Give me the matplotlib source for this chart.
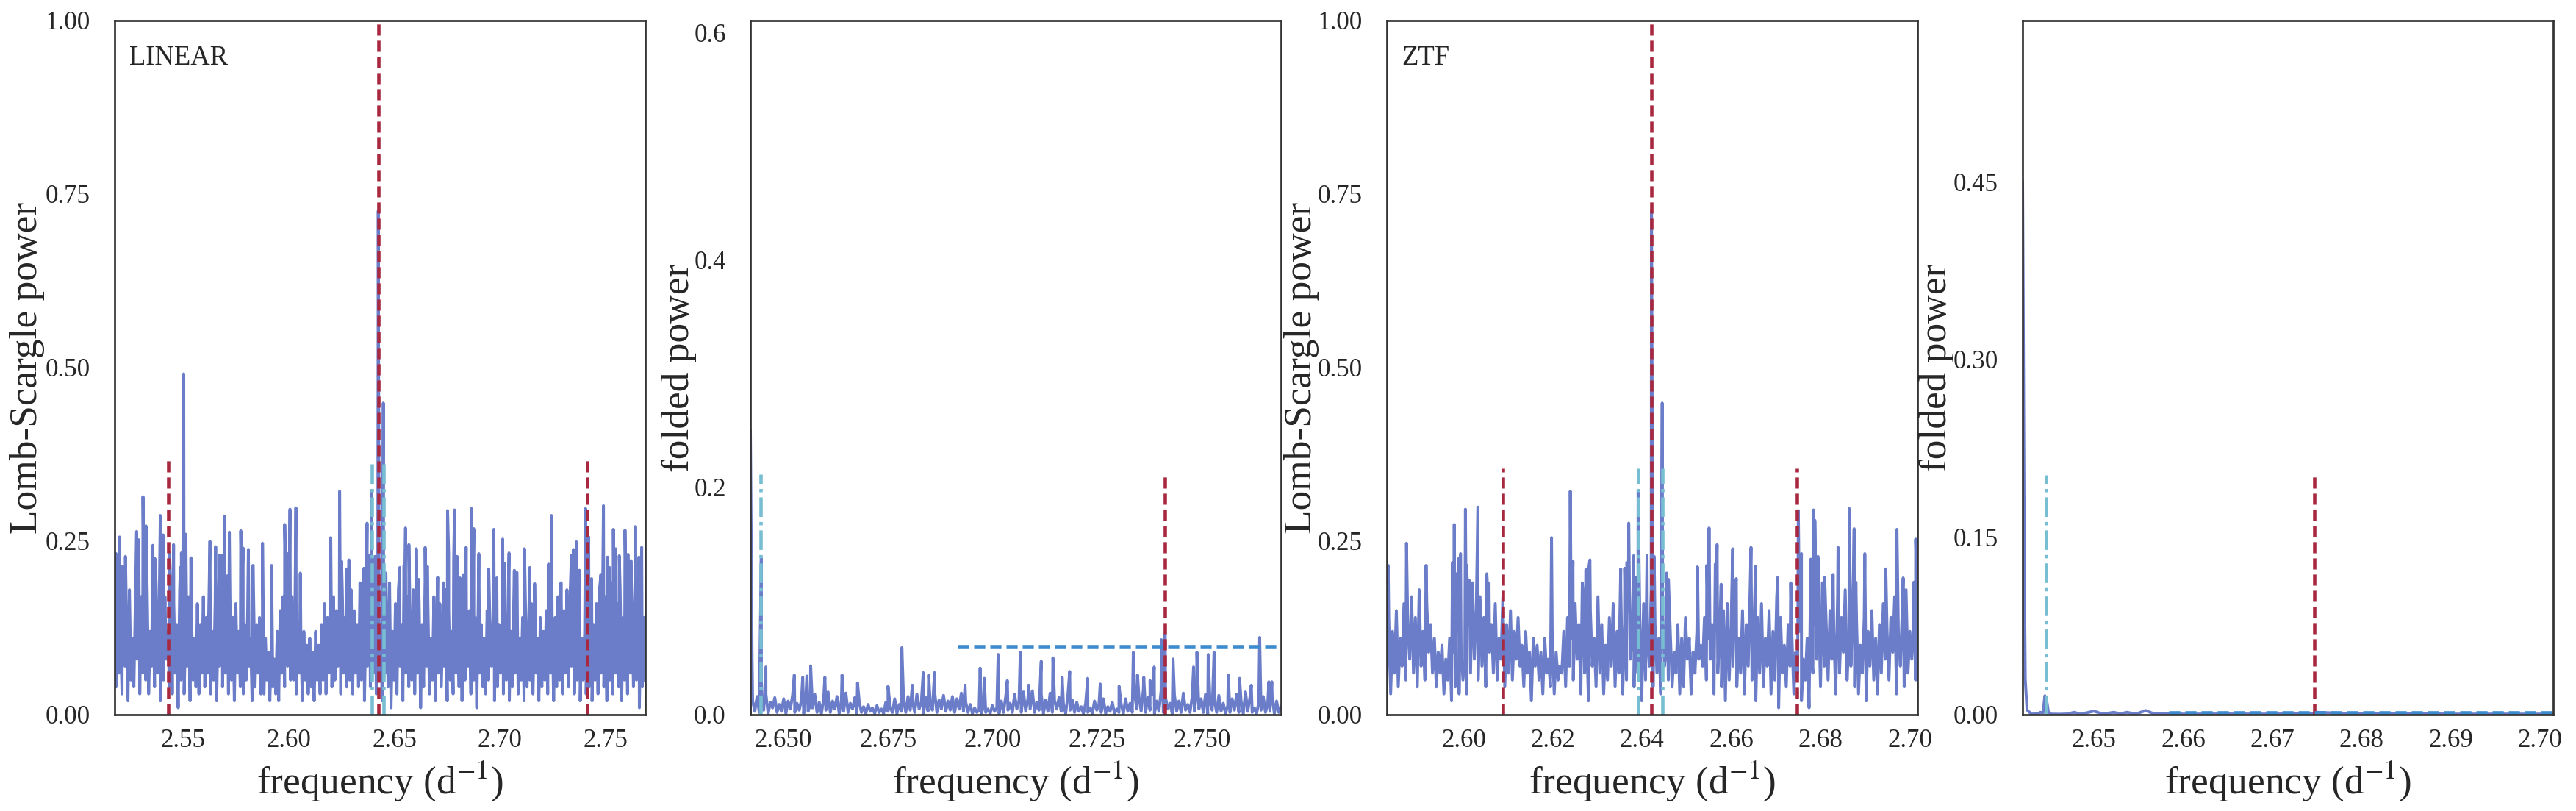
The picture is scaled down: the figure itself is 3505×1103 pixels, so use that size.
import numpy as np
import matplotlib
matplotlib.use("Agg")
import matplotlib.pyplot as plt

plt.rcParams['font.family'] = ['Liberation Serif', 'DejaVu Serif']
plt.rcParams['mathtext.fontset'] = 'stix'

BLUE = "#6b7dc9"
RED = "#a8283f"
CYAN = "#78bed3"
HLINE = "#3d8bcf"
INK = "#262626"

# LINEAR periodogram: tall peaks
linear_peak_freq = [2.5183, 2.5199, 2.5213, 2.5227, 2.5280, 2.5290, 2.5310, 2.5324, 2.5357, 2.5366,
                    2.5392, 2.5406, 2.5436, 2.5455, 2.5487, 2.5492, 2.5503, 2.5513, 2.5537, 2.5627,
                    2.5654, 2.5672, 2.5685, 2.5696, 2.5709, 2.5719, 2.5773, 2.5784, 2.5809, 2.5831,
                    2.5876, 2.5919, 2.5981, 2.5996, 2.6006, 2.6034, 2.6055, 2.6199, 2.6241, 2.6250,
                    2.6275, 2.6285, 2.6356, 2.6371, 2.6383, 2.6392, 2.6409, 2.6424, 2.6448, 2.6460,
                    2.6526, 2.6546, 2.6553, 2.6569, 2.6604, 2.6615, 2.6646, 2.6656, 2.6705, 2.6734,
                    2.6752, 2.6757, 2.6781, 2.6785, 2.6797, 2.6811, 2.6830, 2.6840, 2.6865, 2.6876,
                    2.6900, 2.6947, 2.6971, 2.6985, 2.7013, 2.7022, 2.7043, 2.7068, 2.7080, 2.7116,
                    2.7141, 2.7164, 2.7230, 2.7244, 2.7338, 2.7348, 2.7362, 2.7376, 2.7405, 2.7420,
                    2.7434, 2.7478, 2.7490, 2.7509, 2.7519, 2.7537, 2.7548, 2.7565, 2.7592, 2.7606,
                    2.7620, 2.7641, 2.7658, 2.7671]
linear_peak_power = [.232, .256, .214, .228, .264, .252, .314, .272, .244, .225,
                     .287, .259, .233, .245, .212, .233, .491, .260, .226, .250,
                     .242, .230, .230, .286, .200, .263, .265, .240, .238, .215,
                     .247, .215, .274, .232, .296, .298, .204, .255, .322, .221,
                     .210, .223, .211, .276, .230, .323, .228, .726, .449, .204,
                     .212, .215, .269, .245, .239, .195, .241, .214, .198, .190,
                     .294, .232, .224, .295, .228, .197, .202, .241, .297, .268,
                     .232, .210, .267, .197, .253, .218, .233, .208, .205, .239,
                     .212, .189, .217, .287, .230, .238, .249, .208, .297, .256,
                     .196, .202, .301, .227, .212, .267, .239, .229, .266, .231,
                     .222, .271, .227, .241]
# the dense noise between those peaks, evenly sampled across the panel
linear_noise = [.15, .04, .17, .06, .12, .03, .16, .07, .14, .02, .18, .05, .11, .04, .16, .08, .13, .03, .17, .06,
                .14, .05, .18, .03, .12, .07, .16, .04, .19, .06, .13, .02, .15, .05, .17, .08, .12, .04, .18, .03,
                .16, .06, .13, .01, .18, .05, .15, .03, .12, .07, .17, .02, .14, .05, .11, .04, .16, .03, .13, .06,
                .17, .04, .14, .06, .19, .03, .12, .05, .16, .02, .13, .07, .18, .04, .15, .06, .11, .03, .17, .05,
                .14, .02, .16, .06, .12, .04, .18, .03, .13, .05, .15, .07, .11, .02, .17, .04, .13, .06, .14, .03,
                .10, .03, .11, .05, .09, .02, .10, .04, .08, .03, .12, .02, .15, .06, .17, .04, .18, .07, .14, .05,
                .17, .05, .15, .03, .13, .06, .11, .02, .12, .05, .10, .03, .11, .04, .09, .02, .12, .05, .10, .03,
                .13, .05, .16, .03, .14, .06, .12, .04, .17, .05, .15, .07, .13, .03, .18, .06, .14, .04, .16, .05,
                .18, .03, .15, .06, .13, .04, .19, .05, .16, .02, .14, .07, .17, .04, .12, .06, .18, .03, .15, .05,
                .13, .02, .17, .06, .14, .04, .19, .01, .12, .05, .16, .03, .18, .07, .13, .02, .15, .06, .17, .04,
                .12, .05, .18, .03, .14, .06, .16, .01, .13, .04, .19, .07, .15, .03, .11, .05, .17, .02, .14, .06,
                .16, .04, .13, .07, .18, .02, .15, .05, .12, .03, .17, .06, .14, .04, .16, .02, .19, .05, .13, .07,
                .15, .03, .12, .05, .14, .01, .16, .06, .13, .04, .11, .03, .15, .05, .12, .07, .14, .02, .16, .04,
                .13, .06, .11, .03, .15, .05, .14, .02, .12, .04, .16, .06, .13, .03, .11, .05, .14, .02, .15, .04,
                .12, .05, .16, .03, .13, .06, .11, .02, .14, .04, .12, .05, .15, .03, .11, .06, .13, .02, .14, .04,
                .17, .05, .19, .03, .15, .06, .18, .04, .16, .07, .14, .03, .19, .05, .13, .02, .11, .05, .12, .03,
                .10, .04, .11, .02, .13, .05, .16, .03, .18, .06, .14, .04, .17, .02, .15, .05, .19, .03, .13, .06,
                .16, .04, .18, .02, .14, .05, .17, .03, .12, .06, .15, .04, .18, .05, .13, .01, .16, .04, .14, .05]

# ZTF periodogram
ztf_peak_freq = [2.5831, 2.5872, 2.5916, 2.5975, 2.5979, 2.5984, 2.5989, 2.5993, 2.6004, 2.6007,
                 2.6013, 2.6032, 2.6052, 2.6057, 2.6197, 2.6239, 2.6245, 2.6266, 2.6274, 2.6280,
                 2.6283, 2.6352, 2.6361, 2.6366, 2.6370, 2.6381, 2.6386, 2.6391, 2.6411, 2.6421,
                 2.6427, 2.6445, 2.6455, 2.6459, 2.6524, 2.6545, 2.6550, 2.6564, 2.6568, 2.6577,
                 2.6603, 2.6611, 2.6644, 2.6654, 2.6704, 2.6733, 2.6750, 2.6757, 2.6778, 2.6784,
                 2.6787, 2.6794, 2.6809, 2.6828, 2.6839, 2.6864, 2.6875, 2.6879, 2.6899, 2.6946,
                 2.6971, 2.6985, 2.7009, 2.7013]
ztf_peak_power = [.215, .247, .215, .219, .274, .203, .225, .232, .296, .215,
                  .193, .299, .203, .189, .255, .322, .221, .190, .209, .210,
                  .223, .210, .211, .219, .276, .229, .198, .323, .229, .726,
                  .228, .449, .204, .195, .213, .215, .269, .217, .245, .188,
                  .239, .196, .241, .214, .198, .190, .294, .232, .224, .295,
                  .280, .228, .198, .202, .241, .297, .268, .191, .232, .210,
                  .267, .197, .191, .253]
ztf_noise = [.05, .14, .03, .12, .06, .15, .04, .11, .07, .16, .05, .13, .08, .17, .06, .14, .04, .18, .07, .12,
             .05, .16, .09, .13, .06, .11, .04, .09, .06, .10, .03, .08, .05, .11, .02, .09, .04, .12, .03, .10,
             .05, .08, .03, .13, .06, .19, .08, .15, .05, .17, .07, .14, .04, .18, .09, .13, .06, .16, .05, .11,
             .08, .17, .04, .13, .06, .15, .05, .12, .08, .14, .07, .10, .04, .12, .06, .09, .02, .11, .07, .10,
             .05, .09, .03, .11, .06, .08, .04, .10, .03, .09, .05, .07, .06, .12, .04, .14, .07, .11, .05, .16,
             .08, .13, .03, .18, .06, .12, .02, .15, .07, .11, .04, .17, .06, .13, .03, .10, .05, .14, .07, .16,
             .04, .12, .06, .18, .03, .13, .05, .15, .08, .11, .04, .17, .06, .14, .02, .16, .05, .12, .07, .18,
             .04, .13, .06, .11, .03, .15, .07, .10, .05, .12, .04, .09, .06, .13, .03, .11, .04, .14, .08, .11,
             .03, .09, .06, .12, .08, .10, .07, .14, .05, .11, .08, .13, .03, .17, .06, .12, .04, .15, .02, .16,
             .05, .13, .07, .18, .04, .11, .06, .15, .03, .13, .07, .18, .05, .12, .02, .14, .06, .16, .04, .11,
             .07, .15, .03, .12, .05, .17, .01, .14, .06, .10, .04, .13, .07, .11, .03, .09, .06, .12, .02, .08,
             .05, .11, .01, .09, .06, .13, .08, .16, .04, .19, .07, .13, .05, .15, .08, .12, .03, .17, .06, .14,
             .09, .18, .05, .11, .07, .16, .04, .13, .03, .10, .06, .14, .02, .12, .07, .15, .05, .11, .03, .13,
             .06, .16, .08, .12, .05, .14, .09, .17, .03, .11, .07, .15, .04, .18, .06, .12, .08, .13, .05, .16]

# folded power, LINEAR
linear_fold_peak_freq = [2.6421, 2.6425, 2.6447, 2.6458, 2.6526, 2.6546, 2.6556, 2.6565, 2.6599, 2.6640,
                         2.6677, 2.6750, 2.6783, 2.6808, 2.6834, 2.6847, 2.6861, 2.6934, 2.6970, 2.6980,
                         2.7013, 2.7035, 2.7066, 2.7086, 2.7116, 2.7144, 2.7166, 2.7184, 2.7227, 2.7257,
                         2.7302, 2.7336, 2.7346, 2.7361, 2.7376, 2.7386, 2.7403, 2.7412, 2.7431, 2.7480,
                         2.7488, 2.7515, 2.7529, 2.7563, 2.7590, 2.7618, 2.7638, 2.7660, 2.7667]
linear_fold_peak_power = [.250, .051, .1375, .042, .035, .033, .034, .043, .033, .035,
                          .028, .025, .059, .026, .037, .035, .037, .026, .041, .032,
                          .053, .030, .055, .026, .047, .050, .033, .038, .032, .027,
                          .025, .055, .035, .033, .030, .042, .066, .071, .049, .042,
                          .055, .053, .055, .035, .032, .026, .068, .029, .029]
linear_fold_noise = [.001, .012, .003, .016, .002, .010, .004, .018, .001, .011, .006, .015, .002, .009, .003, .014, .001, .012, .005, .017,
                     .002, .010, .004, .013, .001, .016, .003, .009, .006, .018, .002, .011, .001, .014, .004, .020, .002, .012, .005, .016,
                     .001, .013, .003, .019, .002, .010, .005, .015, .001, .012, .002, .007, .001, .009, .003, .006, .001, .008, .002, .005,
                     .001, .011, .003, .006, .002, .014, .001, .009, .003, .013, .002, .016, .004, .012, .002, .018, .005, .011, .001, .015,
                     .003, .010, .004, .020, .002, .013, .005, .017, .003, .012, .004, .016, .002, .014, .005, .019, .003, .011, .002, .009,
                     .001, .006, .002, .004, .001, .007, .002, .005, .001, .008, .003, .006, .001, .012, .002, .016, .004, .010, .002, .018,
                     .005, .012, .002, .020, .003, .014, .005, .021, .002, .011, .004, .018, .001, .013, .003, .019, .002, .012, .005, .015,
                     .003, .009, .001, .017, .004, .013, .002, .011, .003, .007, .001, .010, .002, .006, .001, .012, .004, .009, .002, .014,
                     .001, .007, .003, .011, .001, .005, .002, .009, .001, .014, .003, .010, .002, .020, .005, .016, .003, .022, .002, .015,
                     .004, .018, .001, .012, .003, .021, .002, .015, .005, .010, .001, .017, .003, .012, .002, .019, .004, .009, .002, .016,
                     .003, .020, .005, .014, .002, .018, .001, .011, .004, .013, .002, .017, .003, .010, .001, .008, .002, .014, .004, .018,
                     .002, .012, .001, .020, .003, .015, .002, .006, .001, .011, .004, .016, .002, .009, .003, .017, .001, .012, .002, .007]

# folded power, ZTF: almost flat apart from the spike at the left edge
ztf_fold_freq = [2.6420, 2.6421, 2.6422, 2.6423, 2.6425, 2.6430, 2.6437, 2.6440, 2.6443, 2.6445,
                 2.6447, 2.6449, 2.6452, 2.6462, 2.6470, 2.6478, 2.6485, 2.6500, 2.6510, 2.6522,
                 2.6530, 2.6537, 2.6547, 2.6558, 2.6568, 2.6580, 2.6600, 2.6650, 2.6700, 2.6747,
                 2.6750, 2.6800, 2.6830, 2.6900, 2.7015]
ztf_fold_power = [.450, .300, .120, .030, .004, .0005, .0008, .0020, .0015, .0160,
                  .0120, .0020, .0005, .0004, .0006, .0020, .0005, .0030, .0005, .0020,
                  .0008, .0020, .0006, .0035, .0006, .0012, .0005, .0006, .0005, .0010,
                  .0020, .0006, .0012, .0005, .0005]

panel_lefts = [156, 1021, 1887, 2752]
panel_xlims = [(2.5176, 2.7688), (2.6421, 2.7689), (2.5828, 2.7017), (2.6420, 2.7015)]
panel_ylims = [(0, 1), (0, 0.611), (0, 1), (0, 0.5863)]
panel_xticks = [[2.55, 2.60, 2.65, 2.70, 2.75],
                [2.650, 2.675, 2.700, 2.725, 2.750],
                [2.60, 2.62, 2.64, 2.66, 2.68, 2.70],
                [2.65, 2.66, 2.67, 2.68, 2.69, 2.70]]
panel_xfmt = ["%.2f", "%.3f", "%.2f", "%.2f"]
panel_yticks = [[0, .25, .5, .75, 1], [0, .2, .4, .6], [0, .25, .5, .75, 1], [0, .15, .3, .45]]
panel_yfmt = ["%.2f", "%.1f", "%.2f", "%.2f"]
panel_ylabels = ["Lomb-Scargle power", "folded power", "Lomb-Scargle power", "folded power"]
ylabel_x = [-0.165, -0.135, -0.160, -0.162]
panel_names = ["LINEAR", None, "ZTF", None]

W, H = 3505, 1103
AX_W, AX_H, AX_BOTTOM = 722, 944, 131

fig = plt.figure(figsize=(W / 300, H / 300), dpi=300)
axes = []
for i in range(4):
    ax = fig.add_axes([panel_lefts[i] / W, AX_BOTTOM / H, AX_W / W, AX_H / H])
    axes.append(ax)


def merged(xlim, noise, peak_freq, peak_power):
    # noise is evenly sampled, peaks go in at the frequency they were read at
    f = np.concatenate([np.linspace(xlim[0], xlim[1], len(noise)), peak_freq])
    p = np.concatenate([noise, peak_power])
    order = np.argsort(f)
    return f[order], p[order]


series = [merged(panel_xlims[0], linear_noise, linear_peak_freq, linear_peak_power),
          merged(panel_xlims[1], linear_fold_noise, linear_fold_peak_freq, linear_fold_peak_power),
          merged(panel_xlims[2], ztf_noise, ztf_peak_freq, ztf_peak_power),
          (np.array(ztf_fold_freq), np.array(ztf_fold_power))]

MARK_LW = 1.1
dash = (0, (3.3, 1.5))
dashdot = (0, (5.8, 1.5, 1.0, 1.5))

for i, ax in enumerate(axes):
    ax.plot(series[i][0], series[i][1], color=BLUE, lw=0.95, solid_joinstyle='round')
    ax.set_xlim(panel_xlims[i])
    ax.set_ylim(panel_ylims[i])
    ax.set_xticks(panel_xticks[i], [panel_xfmt[i] % t for t in panel_xticks[i]])
    ax.set_yticks(panel_yticks[i], [panel_yfmt[i] % t for t in panel_yticks[i]])
    ax.tick_params(axis='x', length=0, pad=4.6, labelsize=8.4, labelcolor=INK)
    ax.tick_params(axis='y', length=0, pad=8.0, labelsize=8.4, labelcolor=INK)
    for s in ax.spines.values():
        s.set_linewidth(0.65)
        s.set_color("#333333")
    ax.set_xlabel(r"frequency (d$^{-1}$)", fontsize=12.8, color=INK, va='center')
    ax.xaxis.set_label_coords(0.5, -0.096)
    ax.set_ylabel(panel_ylabels[i], fontsize=12.8, color=INK, va='center')
    ax.yaxis.set_label_coords(ylabel_x[i], 0.5)
    if panel_names[i]:
        ax.text(0.028, 0.946, panel_names[i], transform=ax.transAxes, fontsize=8.8, color=INK, va='center')

# marker lines
ax = axes[0]
ax.vlines(2.6425, 0, 1, color=RED, lw=MARK_LW, linestyles=[dash])
ax.vlines([2.5430, 2.7414], 0, 0.367, color=RED, lw=MARK_LW, linestyles=[dash])
ax.vlines([2.6392, 2.6448], 0, 0.367, color=CYAN, lw=MARK_LW, linestyles=[dashdot])

ax = axes[1]
ax.vlines(2.6446, 0, 0.2117, color=CYAN, lw=MARK_LW, linestyles=[dashdot])
ax.vlines(2.7412, 0, 0.21, color=RED, lw=MARK_LW, linestyles=[dash])
ax.hlines(0.0605, 2.6917, 2.7683, color=HLINE, lw=MARK_LW, linestyles=[dash])

ax = axes[2]
ax.vlines(2.6421, 0, 1, color=RED, lw=MARK_LW, linestyles=[dash])
ax.vlines([2.6088, 2.6747], 0, 0.355, color=RED, lw=MARK_LW, linestyles=[dash])
ax.vlines([2.6391, 2.6446], 0, 0.355, color=CYAN, lw=MARK_LW, linestyles=[dashdot])

ax = axes[3]
ax.vlines(2.6446, 0, 0.2027, color=CYAN, lw=MARK_LW, linestyles=[dashdot])
ax.vlines(2.6747, 0, 0.2027, color=RED, lw=MARK_LW, linestyles=[dash])
ax.hlines(0.002, 2.6584, 2.7015, color=HLINE, lw=MARK_LW, linestyles=[dash])

fig.savefig("out.png", dpi=300)
